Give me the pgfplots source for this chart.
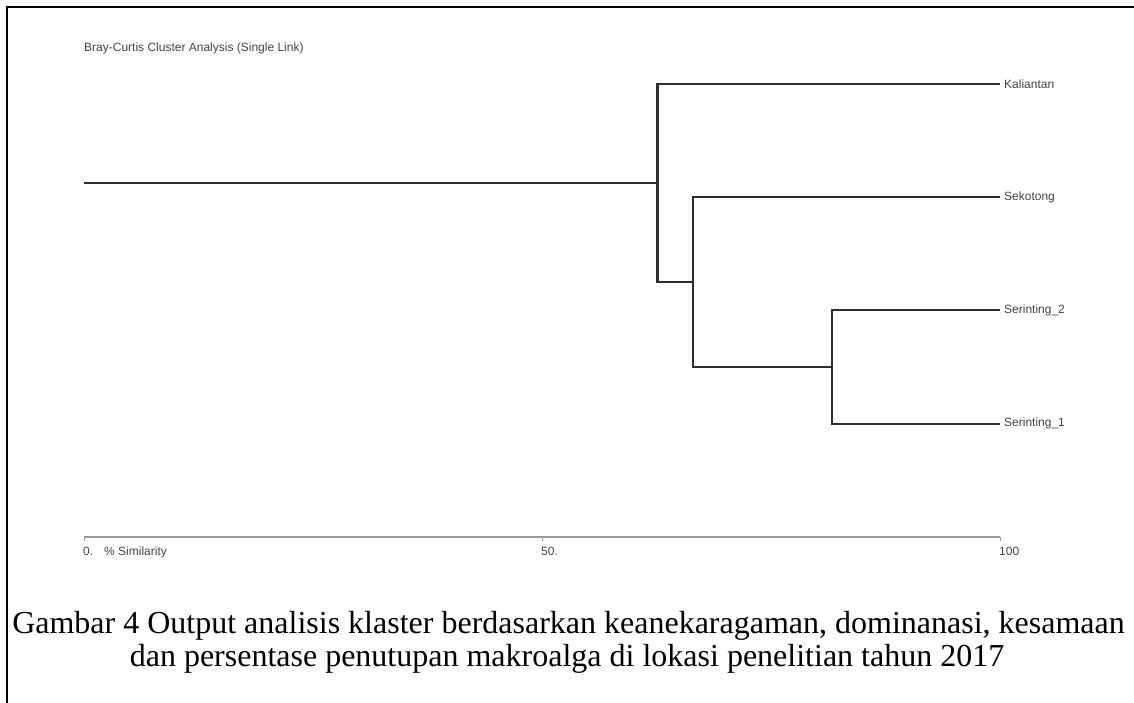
\documentclass[border=0pt]{standalone}
\usepackage{fontspec}
\setmainfont{Liberation Serif}
\newfontfamily\arial{Liberation Sans}
\usepackage{pgfplots}
\pgfplotsset{compat=1.18}
\definecolor{dendro}{HTML}{2E2E2E}
\definecolor{axgray}{HTML}{999999}
\definecolor{txtgray}{HTML}{444444}
\begin{document}
\begin{tikzpicture}
\useasboundingbox (0,0) rectangle (1134bp,703bp);
\draw[line width=2bp, black] (7bp,0) -- (7bp,696bp) -- (1134bp,696bp);
\begin{axis}[
  at={(84bp,166bp)}, anchor=origin,
  scale only axis,
  width=916bp, height=521.2bp,
  xmin=0, xmax=100, ymin=0, ymax=4.6,
  clip=false,
  axis y line=none,
  axis x line*=bottom,
  x axis line style={-, draw=axgray, line width=1.5bp},
  xtick={0,50,100},
  xticklabels={{0.\hspace{11bp}\% Similarity},{50.},{100}},
  tick align=outside,
  major tick length=4bp,
  xtick style={draw=axgray, line width=1bp},
  xticklabel style={anchor=north west, inner sep=0pt, yshift=-6bp, xshift=-1bp, font=\arial\fontsize{12bp}{14bp}\selectfont, text=txtgray},
]
\addplot[draw=dendro, line width=2.2bp, mark=none] coordinates {(100,2) (81.7,2) (81.7,1) (100,1)};
\addplot[draw=dendro, line width=2.2bp, mark=none] coordinates {(81.7,1.5) (66.5,1.5) (66.5,3) (100,3)};
\addplot[draw=dendro, line width=2.2bp, mark=none] coordinates {(66.5,2.25) (62.6,2.25) (62.6,4) (100,4)};
\addplot[draw=dendro, line width=2.2bp, mark=none] coordinates {(62.6,3.125) (0,3.125)};
\begin{scope}[every node/.style={anchor=west, inner sep=0pt, text=txtgray, font=\arial\fontsize{12bp}{14bp}\selectfont}]
\node[xshift=4bp] at (axis cs:100,4) {Kaliantan};
\node[xshift=4bp] at (axis cs:100,3) {Sekotong};
\node[xshift=4bp] at (axis cs:100,2) {Serinting\_2};
\node[xshift=4bp] at (axis cs:100,1) {Serinting\_1};
\node at (axis cs:0,4.316) {Bray-Curtis Cluster Analysis (Single Link)};
\end{scope}
\end{axis}
\node[anchor=base, inner sep=0pt, font=\fontsize{32bp}{36bp}\selectfont] at (568.5bp,69bp) {Gambar 4 Output analisis klaster berdasarkan keanekaragaman, dominanasi, kesamaan};
\node[anchor=base, inner sep=0pt, font=\fontsize{32bp}{36bp}\selectfont] at (567bp,37bp) {dan persentase penutupan makroalga di lokasi penelitian tahun 2017};
\end{tikzpicture}
\end{document}
